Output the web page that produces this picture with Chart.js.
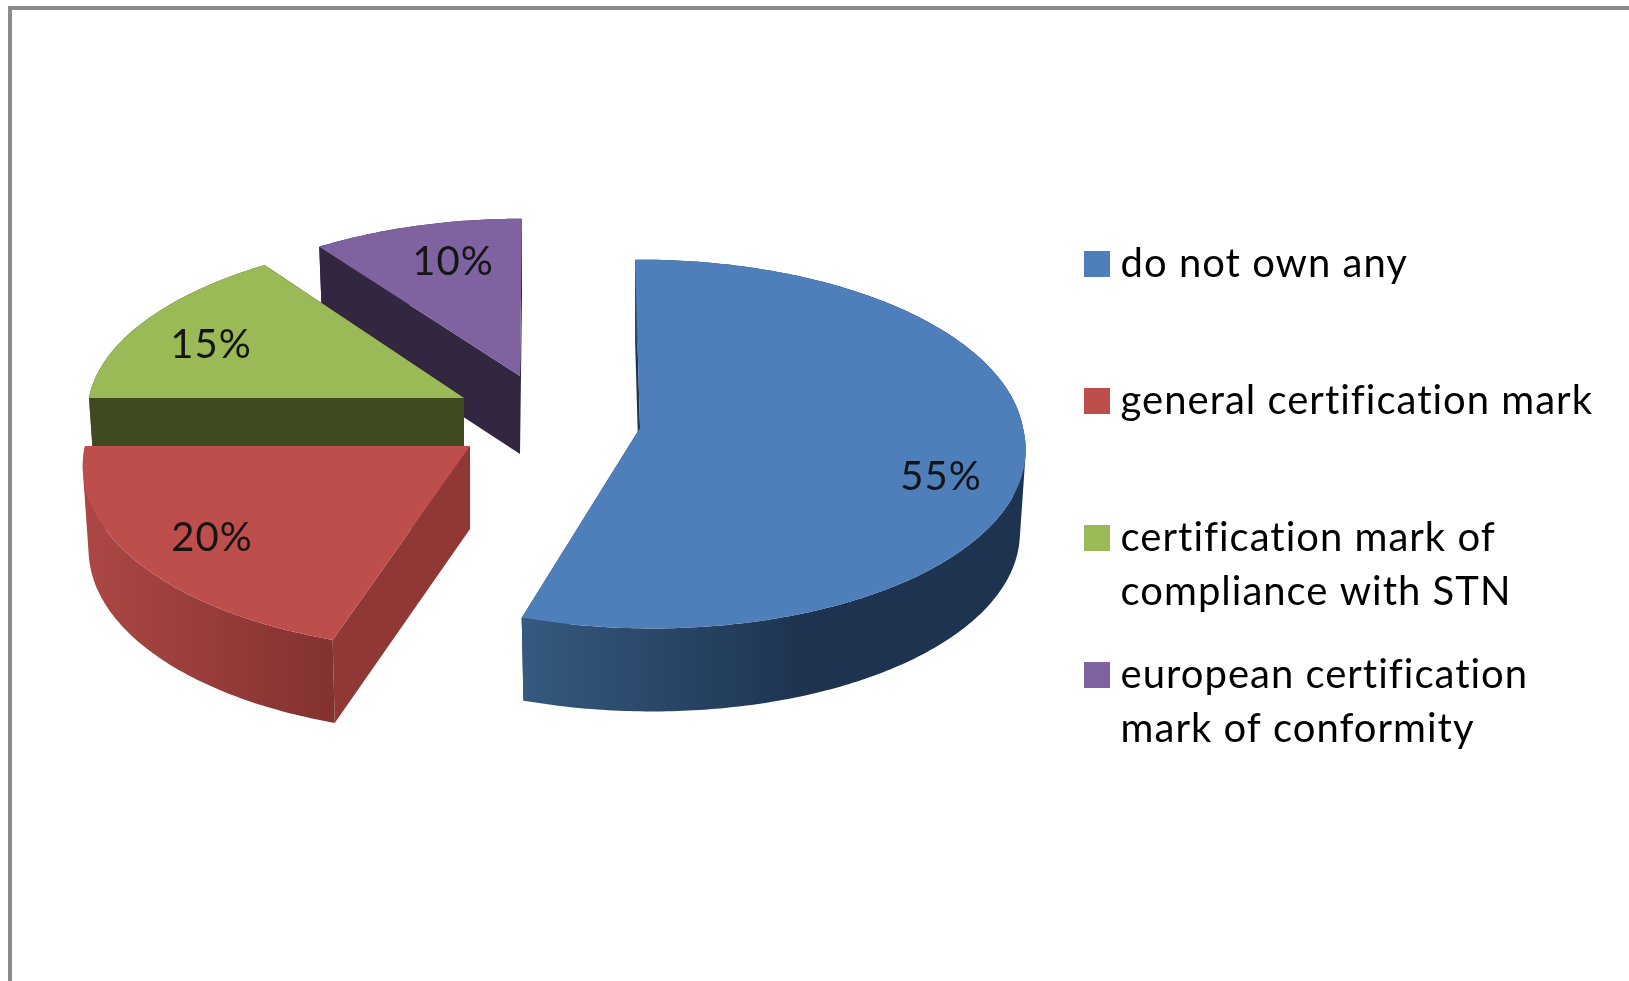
<!DOCTYPE html>
<html>
<head>
<meta charset="utf-8">
<title>Certification marks</title>
<script src="https://cdn.jsdelivr.net/npm/chart.js@4"></script>
<style>
  html, body { margin: 0; padding: 0; background: #fff; overflow: hidden; }
  #frame { position: absolute; left: 8px; top: 6px; width: 1640px; height: 1000px; box-sizing: border-box;
           border-left: 4px solid #8b8b8b; border-top: 4px solid #8b8b8b; }
  canvas { position: absolute; left: 0; top: 0; display: block; filter: blur(0.5px); }
</style>
</head>
<body>
<div id="frame"></div>
<canvas id="c" width="1629" height="981"></canvas>
<script>
const categories = ['do not own any', 'general certification mark', 'certification mark of compliance with STN', 'european certification mark of conformity'];
const legendFirstLines = ['do not own any', 'general certification mark', 'certification mark of', 'european certification'];
const legendSecondLines = ['', '', 'compliance with STN', 'mark of conformity'];
const shares = [55, 20, 15, 10];
const topColors = ['#4e7fba', '#be4e4b', '#9aba58', '#7f63a1'];

const FONT = 'Lato, Carlito, Calibri, sans-serif';
const TRACKING = '1px';
const PERSPECTIVE = 0.087;
const DEG = Math.PI / 180;
const slices = [
  { cx: 640, cy: 428, rx: 383, ry: 183, depth: 83, leanNear: 12, leanFar: 0, startPad: -0.8, endPad: 0.1, cut: '#1d334f', rim: [[523, '#35597f'], [810, '#1d334f']], label: [301, 49] },
  { cx: 470, cy: 446, rx: 385, ry: 187, depth: 83, leanNear: -8, leanFar: 0, startPad: 0, endPad: 0, cut: '#8f3836', rim: [[83, '#ac4744'], [335, '#823230']], label: [-258, 92] },
  { cx: 464, cy: 398, rx: 375, ry: 176, depth: 80, leanNear: 0, leanFar: 10, startPad: 0, endPad: 0, cut: '#3f4a20', rim: [[89, '#3f4a20'], [300, '#3f4a20']], label: [-253, -53] },
  { cx: 520, cy: 376, rx: 368, ry: 171, depth: 78, leanNear: 0, leanFar: 2, startPad: 0, endPad: 0, cut: '#322640', rim: [[318, '#322640'], [520, '#322640']], label: [-67, -114] }
];

function project(s, a) {
  const u = Math.cos(a), v = Math.sin(a), w = 1 - PERSPECTIVE * v;
  const lean = v > 0 ? s.leanNear * v : s.leanFar * v * v;
  return [s.cx + s.rx * u / w + lean, s.cy + s.ry * v / w];
}
function lowered(s, pt) {
  return [s.cx + (pt[0] - s.cx) * 0.985, pt[1] + s.depth];
}
function addPath(ctx, pts) {
  pts.forEach((p, i) => i ? ctx.lineTo(p[0], p[1]) : ctx.moveTo(p[0], p[1]));
  ctx.closePath();
}
function polygon(ctx, pts, fill) {
  ctx.beginPath();
  addPath(ctx, pts);
  ctx.fillStyle = fill;
  ctx.fill();
}
function signedArea(pts) {
  let sum = 0;
  pts.forEach((p, i) => {
    const q = pts[(i + 1) % pts.length];
    sum += p[0] * q[1] - q[0] * p[1];
  });
  return sum;
}

class Arc3D extends Chart.ArcElement {
  draw(ctx) {
    const i = this.$context.dataIndex;
    const s = slices[i];
    const { startAngle, endAngle } = this.getProps(['startAngle', 'endAngle']);
    const a0 = startAngle + s.startPad * DEG, a1 = endAngle + s.endPad * DEG;
    const o = this.options;
    const rim = [];
    const n = Math.max(8, Math.ceil((a1 - a0) / (Math.PI / 240)));
    for (let k = 0; k <= n; k++) rim.push(project(s, a0 + (a1 - a0) * k / n));
    const apex = [s.cx, s.cy];
    const apexLow = [s.cx, s.cy + s.depth];
    ctx.save();
    polygon(ctx, [apex, rim[0], lowered(s, rim[0]), apexLow], s.cut);
    polygon(ctx, [apex, rim[n], lowered(s, rim[n]), apexLow], s.cut);
    const g = ctx.createLinearGradient(s.rim[0][0], 0, s.rim[1][0], 0);
    g.addColorStop(0, s.rim[0][1]);
    g.addColorStop(1, s.rim[1][1]);
    ctx.beginPath();
    for (let k = 0; k < n; k++) {
      const quad = [rim[k], rim[k + 1], lowered(s, rim[k + 1]), lowered(s, rim[k])];
      addPath(ctx, signedArea(quad) < 0 ? quad.reverse() : quad);
    }
    ctx.fillStyle = g;
    ctx.fill();
    polygon(ctx, [apex].concat(rim), o.backgroundColor);
    ctx.restore();
  }
}
Arc3D.id = 'arc3d';
Arc3D.defaults = Chart.ArcElement.defaults;
Arc3D.defaultRoutes = Chart.ArcElement.defaultRoutes;

class Pie3DController extends Chart.PieController {
  draw() {
    const ctx = this.chart.ctx, arcs = this.getMeta().data;
    for (let i = arcs.length - 1; i >= 0; i--) arcs[i].draw(ctx, this.chart.chartArea);
  }
}
Pie3DController.id = 'pie3d';
Pie3DController.defaults = { dataElementType: 'arc3d' };
Chart.register(Arc3D, Pie3DController);

function swatch(color) {
  const c = document.createElement('canvas');
  c.width = 26; c.height = 26;
  const x = c.getContext('2d');
  x.fillStyle = color;
  x.fillRect(0, 0, 26, 26);
  return c;
}

const sliceLabels = {
  id: 'sliceLabels',
  beforeUpdate(chart) { chart.ctx.letterSpacing = TRACKING; },
  beforeDraw(chart) { chart.ctx.letterSpacing = TRACKING; },
  afterDatasetsDraw(chart) {
    const ctx = chart.ctx;
    ctx.save();
    ctx.font = '40px ' + FONT;
    ctx.fillStyle = '#151515';
    ctx.textAlign = 'center';
    ctx.textBaseline = 'middle';
    shares.forEach((v, i) => {
      const s = slices[i];
      ctx.fillText(v + '%', s.cx + s.label[0], s.cy + s.label[1]);
    });
    ctx.restore();
  }
};

new Chart(document.getElementById('c'), {
  type: 'pie3d',
  data: {
    labels: categories,
    datasets: [{ data: shares, backgroundColor: topColors, borderWidth: 0 }]
  },
  options: {
    responsive: false,
    animation: false,
    rotation: 0,
    layout: { padding: { top: 215, right: 26, left: 0, bottom: 0 } },
    plugins: {
      tooltip: { enabled: false },
      legend: {
        position: 'right',
        align: 'start',
        labels: {
          font: { family: FONT, size: 40, lineHeight: 54 / 40 },
          color: '#151515',
          padding: 29,
          boxWidth: 8,
          boxHeight: 26,
          usePointStyle: true,
          generateLabels(chart) {
            return categories.map((name, i) => ({
              text: [legendFirstLines[i], legendSecondLines[i]],
              fillStyle: topColors[i],
              strokeStyle: topColors[i],
              lineWidth: 0,
              pointStyle: swatch(topColors[i]),
              index: i,
              hidden: false
            }));
          }
        }
      }
    }
  },
  plugins: [sliceLabels]
});
</script>
</body>
</html>
